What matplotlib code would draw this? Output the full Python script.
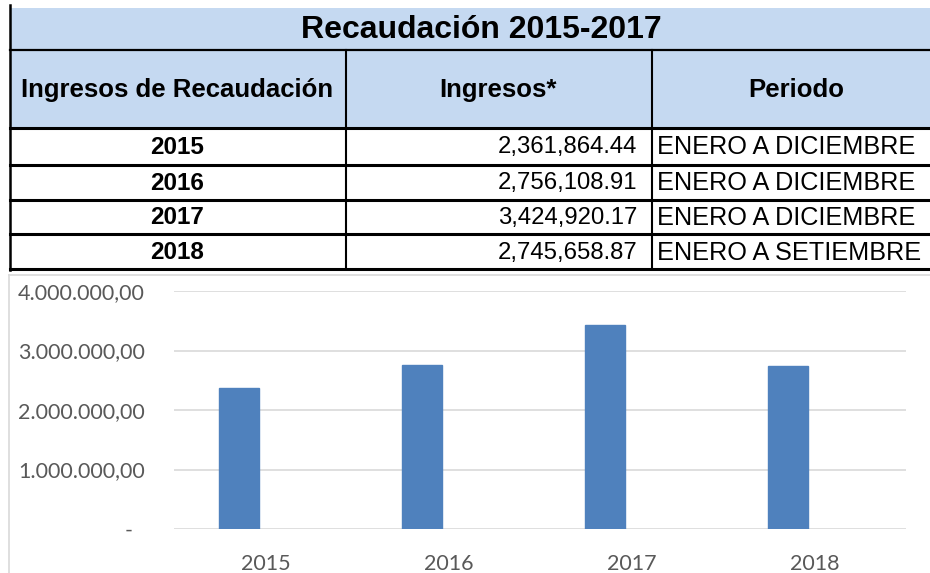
import matplotlib
matplotlib.use("Agg")
import matplotlib.pyplot as plt
from matplotlib.patches import Rectangle

# data
titulo = "Recaudación 2015-2017"
encabezados = ["Ingresos de Recaudación", "Ingresos*", "Periodo"]
anios = ["2015", "2016", "2017", "2018"]
ingresos = [2361864.44, 2756108.91, 3424920.17, 2745658.87]
periodos = ["ENERO A DICIEMBRE", "ENERO A DICIEMBRE", "ENERO A DICIEMBRE", "ENERO A SETIEMBRE"]
y_ticks = [0, 1000000, 2000000, 3000000, 4000000]

W, H = 930, 573
fig = plt.figure(figsize=(W / 100, H / 100), dpi=100)

# --- table drawn in pixel coordinates ---
tab = fig.add_axes([0, 0, 1, 1])
tab.set_xlim(0, W)
tab.set_ylim(H, 0)
tab.axis("off")

azul = "#C5D9F1"
tab.add_patch(Rectangle((10, 8), W - 10, 120, facecolor=azul, edgecolor="none"))

col_x = [10, 345.5, 651.5]
row_y = [128, 165, 200, 234, 269]

tab.plot([10, 10], [5, 270], color="black", lw=1.8)
tab.plot([10, W], [50, 50], color="black", lw=1.6)
for y in row_y:
    tab.plot([10, W], [y, y], color="black", lw=2.2)
for x in col_x[1:]:
    tab.plot([x, x], [50, 269], color="black", lw=1.5)

fuente = ["Liberation Sans", "DejaVu Sans"]
tab.text(481, 30, titulo, ha="center", va="center", fontsize=23,
         fontweight="bold", family=fuente)
for cx, txt in zip([177, 498, 796], encabezados):
    tab.text(cx, 90, txt, ha="center", va="center", fontsize=18.5,
             fontweight="bold", family=fuente)

for i, (a, v, p) in enumerate(zip(anios, ingresos, periodos)):
    cy = (row_y[i] + row_y[i + 1]) / 2 + 1
    tab.text(177, cy, a, ha="center", va="center", fontsize=17.5,
             fontweight="bold", family=fuente)
    tab.text(637, cy, f"{v:,.2f}", ha="right", va="center", fontsize=17.2,
             family=fuente)
    tab.text(657, cy, p, ha="left", va="center", fontsize=18.2,
             family=fuente)

# chart frame
tab.plot([9, 9], [275, H], color="#D9D9D9", lw=1.2)
tab.plot([9, W], [275, 275], color="#D9D9D9", lw=1.2)

# --- bar chart ---
ax = fig.add_axes([174 / W, (H - 529) / H, 732 / W, 238 / H])
x = list(range(len(anios)))
ax.bar([i - 0.145 for i in x], ingresos, width=0.22, color="#4F81BD",
       edgecolor="#4F81BD", zorder=3)
ax.set_xlim(-0.5, len(anios) - 0.5)
ax.set_ylim(0, 4000000)
ax.set_yticks(y_ticks)


def fmt(v):
    if v == 0:
        return "-"
    s = f"{v:,.2f}"
    return s.replace(",", "X").replace(".", ",").replace("X", ".")


gris = "#595959"
ax.set_yticklabels([fmt(v) for v in y_ticks], color=gris, fontsize=15.5,
                   family=["Lato", "DejaVu Sans"])
ax.set_xticks(x)
ax.set_xticklabels(anios, color=gris, fontsize=15.5, family=["Lato", "DejaVu Sans"])
ax.tick_params(axis="y", length=0, pad=21)
ax.tick_params(axis="x", length=0, pad=18)
for lbl in ax.get_yticklabels():
    if lbl.get_text() == "-":
        lbl.set_x(-0.016)
ax.yaxis.grid(True, color="#D9D9D9", lw=1.2, zorder=0)
for s in ax.spines.values():
    s.set_visible(False)

fig.savefig("out.png", dpi=100)
